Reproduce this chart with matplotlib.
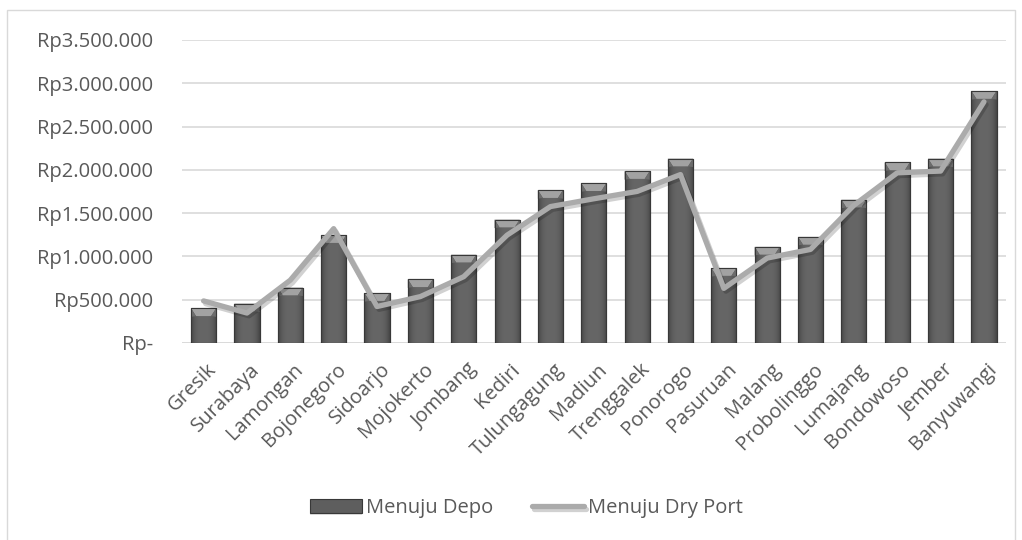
import numpy as np
import matplotlib.pyplot as plt
import matplotlib.patheffects as pe
import matplotlib.transforms as mtrans
from matplotlib.patches import Rectangle
from matplotlib.ticker import FuncFormatter

kota = ['Gresik', 'Surabaya', 'Lamongan', 'Bojonegoro', 'Sidoarjo', 'Mojokerto',
        'Jombang', 'Kediri', 'Tulungagung', 'Madiun', 'Trenggalek', 'Ponorogo',
        'Pasuruan', 'Malang', 'Probolinggo', 'Lumajang', 'Bondowoso', 'Jember',
        'Banyuwangi']
menuju_depo = [400000, 455000, 640000, 1245000, 575000, 735000, 1020000, 1425000,
               1765000, 1845000, 1985000, 2130000, 865000, 1110000, 1225000,
               1655000, 2085000, 2130000, 2910000]
menuju_dry_port = [485000, 345000, 725000, 1320000, 420000, 535000, 765000, 1245000,
                   1575000, 1665000, 1750000, 1945000, 630000, 980000, 1080000,
                   1590000, 1965000, 1985000, 2785000]
yticks = [0, 500000, 1000000, 1500000, 2000000, 2500000, 3000000, 3500000]

plt.rcParams['font.family'] = ['Open Sans', 'DejaVu Sans']
teks = '#595959'

fig = plt.figure(figsize=(10.22, 5.4), dpi=100)
# chart area border
fig.patches.append(Rectangle((7 / 1022, -0.1), 1008 / 1022, 1.1 - 10 / 540,
                             transform=fig.transFigure, fill=False,
                             edgecolor='#d9d9d9', lw=1))

ax = fig.add_axes([0.178, 0.365, 0.806, 0.561])
x = np.arange(len(kota))

bars = ax.bar(x, menuju_depo, width=0.58, color='#5e5e5e', edgecolor='#383838',
              lw=0.8, zorder=2, label='Menuju Depo')
for b in bars:
    b.set_path_effects([pe.SimplePatchShadow(offset=(0, -1.5), shadow_rgbFace='k', alpha=0.12),
                        pe.Normal()])

# shading on each bar: darker sides, bevelled top
t = np.abs(np.linspace(-1, 1, 64))
g = 0.40 - 0.13 * t ** 3
shade = np.repeat(g[None, :, None], 3, axis=2)
for b in bars:
    x0, w, h = b.get_x(), b.get_width(), b.get_height()
    im = ax.imshow(shade, aspect='auto', extent=(x0, x0 + w, 0, h), zorder=2.1)
    im.set_clip_path(b)
    bev = 90000
    ax.fill([x0, x0 + w, x0 + 0.8 * w, x0 + 0.2 * w], [h, h, h - bev, h - bev],
            color='#a2a2a2', zorder=2.2, lw=0)
    ax.fill([x0, x0 + 0.2 * w, x0], [h, h - bev, h - bev * 1.1], color='#6c6c6c', zorder=2.2, lw=0)
    ax.fill([x0 + w, x0 + 0.8 * w, x0 + w], [h, h - bev, h - bev * 1.1], color='#6c6c6c', zorder=2.2, lw=0)
    ax.add_patch(Rectangle((x0, 0), w, h, fill=False, edgecolor='#383838', lw=0.8, zorder=2.3))

garis, = ax.plot(x, menuju_dry_port, color='#ababab', lw=3.8, zorder=2.5,
                 solid_capstyle='round', label='Menuju Dry Port')
garis.set_path_effects([pe.SimpleLineShadow(offset=(1.5, -2), shadow_color='k', alpha=0.18, rho=0.9),
                        pe.Normal()])

ax.set_xlim(-0.5, len(kota) - 0.5)
ax.set_ylim(0, 3500000)
ax.set_yticks(yticks)
ax.yaxis.set_major_formatter(FuncFormatter(
    lambda v, p: 'Rp-' if v == 0 else 'Rp' + f'{int(v):,}'.replace(',', '.')))
ax.set_xticks(x)
ax.set_xticklabels(kota, rotation=45, ha='right', rotation_mode='anchor')
ax.tick_params(length=0, labelsize=14.5, colors=teks)
ax.tick_params(axis='y', pad=21)
ax.tick_params(axis='x', pad=12)
geser = mtrans.ScaledTranslation(3 / 100, 0, fig.dpi_scale_trans)
for lab in ax.get_xticklabels():
    lab.set_transform(lab.get_transform() + geser)
ax.grid(axis='y', color='#d9d9d9', lw=1.2, zorder=0)
for s in ax.spines.values():
    s.set_visible(False)
ax.axhline(0, color='#d9d9d9', lw=1.2, zorder=1)

leg = fig.legend(handles=[bars[0], garis], labels=['Menuju Depo', 'Menuju Dry Port'],
                 loc='center', bbox_to_anchor=(0.515, 0.059), ncol=2, frameon=False,
                 fontsize=14.5, handlelength=2.6, handletextpad=0.2, columnspacing=1.9)
for txt in leg.get_texts():
    txt.set_color(teks)

fig.savefig('out.png', dpi=100)
